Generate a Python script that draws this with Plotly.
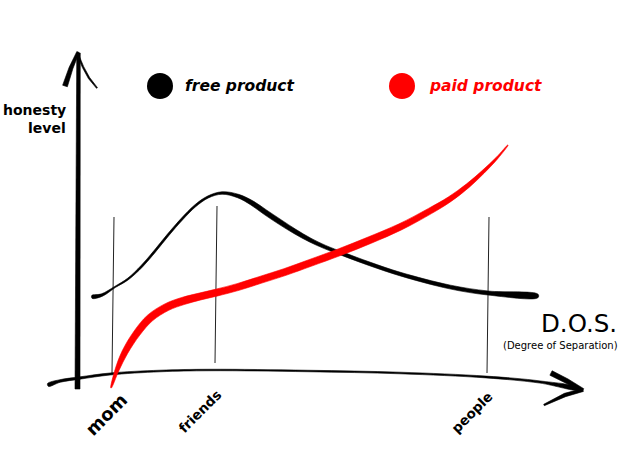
import numpy as np
import plotly.graph_objects as go

# ---- data (sketch space: x = degree of separation, y = honesty, screen-like units) ----
free_x = [92, 102, 115, 128, 142, 155, 168, 182, 195, 208, 222, 238, 252, 265, 280, 295, 310, 325, 343, 370, 400, 450, 488, 538]
free_y = [297, 295, 287, 279, 266, 251, 235, 219, 206, 197, 193, 196, 203, 212, 222, 231.5, 240, 247, 254, 264, 274, 287, 293, 296]
paid_x = [111, 117, 125, 137, 150, 167, 183, 200, 217, 238, 260, 285, 310, 340, 370, 400, 430, 450, 468, 483, 497, 508]
paid_y = [388, 370, 352, 333, 318, 307, 301, 296.5, 292.5, 287, 280, 272, 263, 252, 240, 227, 211, 199, 185.5, 172, 158, 145]

categories = ["mom", "friends", "people"]
category_x = [113, 216, 488]
series_names = ["free product", "paid product"]

# styles (stroke width profiles)
free_w = [3, 2.5, 1.3, 1.6, 2, 2, 2, 2, 2, 2, 2.5, 3.5, 4.5, 5, 5, 4.5, 4, 3.5, 3.5, 3.5, 3.5, 3.8, 4, 3.5]
paid_w = [0.5, 4, 6, 7, 7.5, 7.5, 7.5, 7, 7, 7, 7, 7, 7, 7, 7, 6.5, 6, 5.2, 4.3, 3.2, 2, 0.3]

W, H = 640, 457
fig = go.Figure()


def ribbon(x, y, w, color, name, smooth=True):
    x = np.asarray(x, float)
    y = np.asarray(y, float)
    w = np.asarray(w, float)
    dx = np.gradient(x)
    dy = np.gradient(y)
    n = np.hypot(dx, dy)
    nx, ny = -dy / n, dx / n
    ux, uy = x + nx * w / 2, y + ny * w / 2
    lx, ly = x - nx * w / 2, y - ny * w / 2
    px = np.concatenate([ux, lx[::-1], ux[:1]])
    py = np.concatenate([uy, ly[::-1], uy[:1]])
    line = dict(color=color, width=0.6)
    if smooth:
        line.update(shape="spline", smoothing=1)
    fig.add_trace(go.Scatter(x=px, y=py, mode="lines", fill="toself", fillcolor=color,
                             line=line, hoverinfo="skip", showlegend=False, name=name))


# vertical category guides
guide_top = [217, 206, 217]
guide_bot = [373, 363, 373]
for cx, t, b in zip(category_x, guide_top, guide_bot):
    fig.add_trace(go.Scatter(x=[cx + 1, cx - 1], y=[t, b], mode="lines",
                             line=dict(color="#222", width=1), hoverinfo="skip", showlegend=False))

# x axis (curved hand-drawn)
ax_x = [48, 60, 80, 110, 160, 210, 308, 400, 486, 540, 580]
ax_y = [385, 381, 378, 374, 371, 370, 371, 373, 377, 382, 389]
ax_w = [3, 2.6, 2.3, 2, 1.6, 1.5, 1.5, 1.6, 1.8, 2.2, 2.6]
ribbon(ax_x, ax_y, ax_w, "black", "xaxis")
# x arrow head
ribbon([551, 567, 583], [373, 381, 390], [5, 4.5, 3], "black", "xa1", smooth=False)
ribbon([583, 565, 544], [390, 395, 405], [3, 3.5, 1.5], "black", "xa2", smooth=False)

# y axis
ribbon([77.5, 78, 78.5], [389, 220, 53], [5, 4.5, 3.5], "black", "yaxis", smooth=False)
ribbon([65, 71, 78], [86, 68, 52], [5, 4, 2.5], "black", "ya1", smooth=False)
ribbon([78, 83, 89, 97], [55, 67, 78, 88], [1.5, 1.6, 1.6, 1.2], "black", "ya2", smooth=False)

# curves
ribbon(free_x, free_y, free_w, "black", series_names[0])
ribbon(paid_x, paid_y, paid_w, "#ff0000", series_names[1])

# legend dots
fig.add_trace(go.Scatter(x=[160], y=[86], mode="markers",
                         marker=dict(size=26, color="black"), hoverinfo="skip", showlegend=False))
fig.add_trace(go.Scatter(x=[402], y=[86], mode="markers",
                         marker=dict(size=26, color="#ff0000"), hoverinfo="skip", showlegend=False))

FONT = "DejaVu Sans"
ann = []
ann.append(dict(x=183, y=86, text="<b><i>free product</i></b>", xanchor="left", yanchor="middle",
                font=dict(family=FONT, size=15.5, color="black")))
ann.append(dict(x=427, y=86, text="<b><i>paid product</i></b>", xanchor="left", yanchor="middle",
                font=dict(family=FONT, size=15.5, color="#ff0000")))
ann.append(dict(x=68, y=110, text="<b>honesty</b>", xanchor="right", yanchor="middle",
                font=dict(family=FONT, size=14, color="black")))
ann.append(dict(x=68, y=128, text="<b>level</b>", xanchor="right", yanchor="middle",
                font=dict(family=FONT, size=14, color="black")))
ann.append(dict(x=619, y=323, text="D.O.S.", xanchor="right", yanchor="middle",
                font=dict(family=FONT, size=24.5, color="black")))
ann.append(dict(x=620, y=345, text="(Degree of Separation)", xanchor="right", yanchor="middle",
                font=dict(family=FONT, size=10, color="black")))
label_pos = [(106, 414, 18), (200, 411, 13.5), (472, 412, 13.5)]
for lab, (lx, ly, fs) in zip(categories, label_pos):
    ann.append(dict(x=lx, y=ly, text="<b>" + lab + "</b>", textangle=-45, xanchor="center", yanchor="middle",
                    font=dict(family=FONT, size=fs, color="black")))
for a in ann:
    a.update(showarrow=False, xref="x", yref="y")

fig.update_layout(
    width=W, height=H, margin=dict(l=0, r=0, t=0, b=0),
    paper_bgcolor="white", plot_bgcolor="white",
    xaxis=dict(range=[0, W], visible=False, fixedrange=True),
    yaxis=dict(range=[H, 0], visible=False, fixedrange=True),
    annotations=ann, showlegend=False,
)
fig.write_html("out.html", config={"displayModeBar": False},
               post_script="document.body.style.margin='0';document.body.style.overflow='hidden';")
